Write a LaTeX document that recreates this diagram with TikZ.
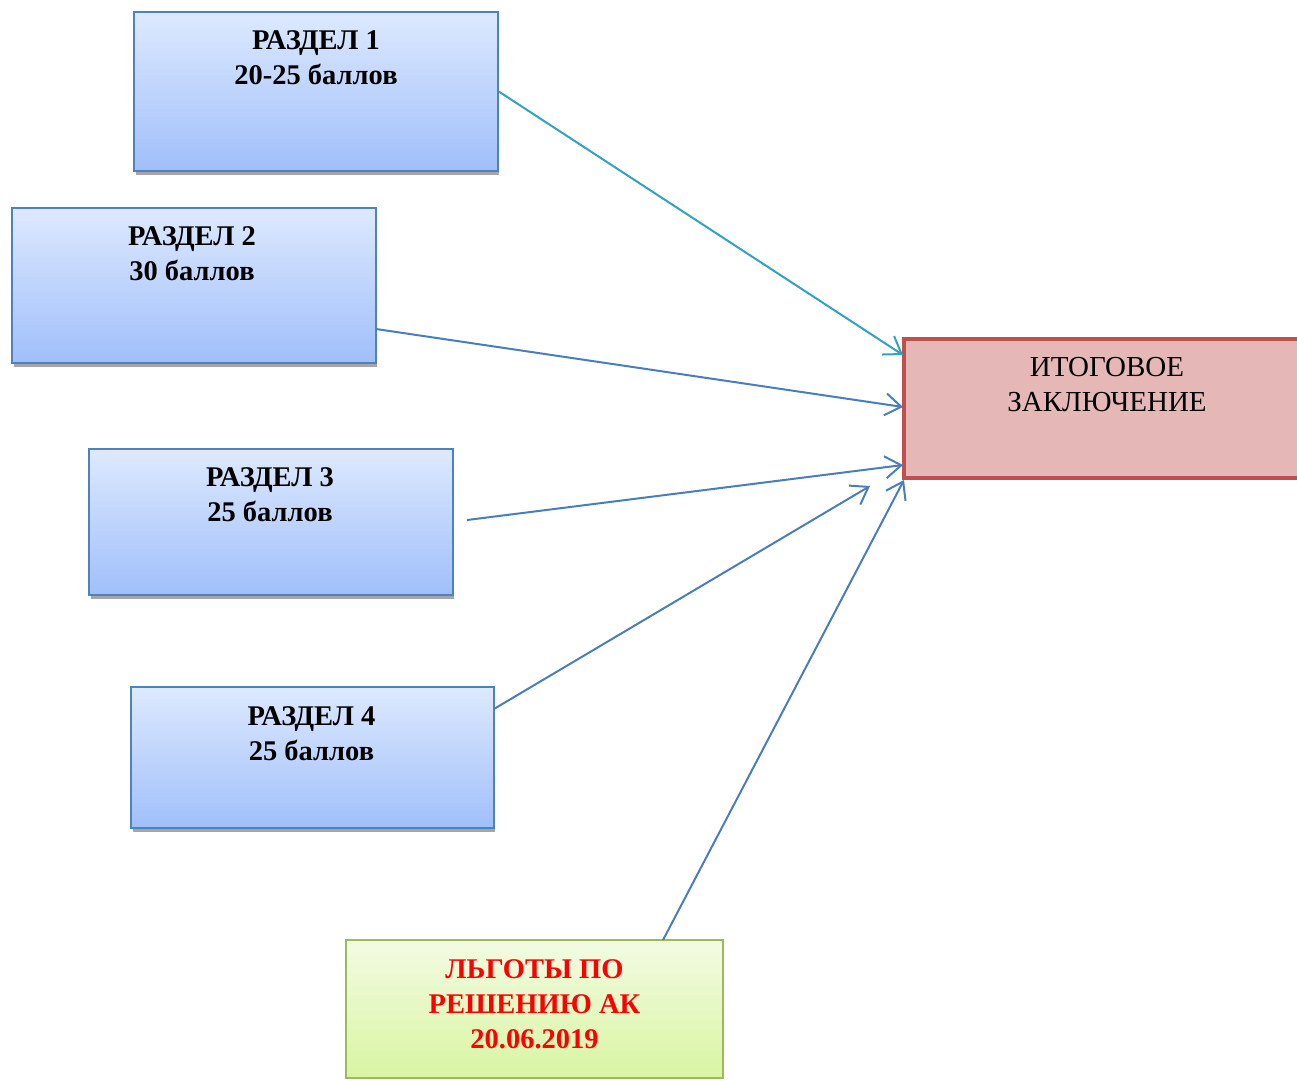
\documentclass[tikz,border=0pt]{standalone}
\usepackage{fontspec}
\setmainfont{Liberation Serif}
\usetikzlibrary{arrows.meta,calc}
\definecolor{bluebd}{HTML}{4F81BD}
\definecolor{bluetop}{HTML}{DDE9FE}
\definecolor{bluebot}{HTML}{A0BFFA}
\definecolor{redbd}{HTML}{C0504D}
\definecolor{redfill}{HTML}{E5B8B7}
\definecolor{greenbd}{HTML}{9BBB59}
\definecolor{greentop}{HTML}{F3FBE3}
\definecolor{greenbot}{HTML}{D8F5A2}
\definecolor{arrblue}{HTML}{4A7EBB}
\definecolor{arrteal}{HTML}{31A2C4}
\definecolor{txtred}{HTML}{FF0000}
\tikzset{
  secbox/.style={draw=bluebd, line width=1.5pt, top color=bluetop, bottom color=bluebot, inner sep=0pt},
  greenbox/.style={draw=greenbd, line width=1.5pt, top color=greentop, bottom color=greenbot, inner sep=0pt},
  finalbox/.style={draw=redbd, line width=4pt, fill=redfill, inner sep=0pt},
  shadowline/.style={draw=gray!70, line width=3pt},
  boxtext/.style={anchor=north, inner sep=0pt, align=center, font=\fontsize{28.5}{35}\selectfont\bfseries},
  plaintext/.style={anchor=north, inner sep=0pt, align=center, font=\fontsize{29}{35}\selectfont},
  link/.style={draw=arrblue, line width=2pt, -{Straight Barb[length=16pt,width=22pt,line width=2pt]}},
  tlink/.style={link, draw=arrteal}
}
\begin{document}
\begin{tikzpicture}[x=1pt,y=-1pt]
\useasboundingbox (0,0) rectangle (1297,1080);
% shadows
\draw[shadowline] (136,173) -- (499,173);
\draw[shadowline] (14,365) -- (377,365);
\draw[shadowline] (91,597) -- (454,597);
\draw[shadowline] (133,830) -- (495,830);
% boxes
\node[secbox, minimum width=364pt, minimum height=159pt] (r1) at (316,91.5) {};
\node[secbox, minimum width=364pt, minimum height=155pt] (r2) at (194,285.5) {};
\node[secbox, minimum width=364pt, minimum height=146pt] (r3) at (271,522) {};
\node[secbox, minimum width=363pt, minimum height=141pt] (r4) at (312.5,757.5) {};
\node[finalbox, minimum width=406pt, minimum height=139pt] (fin) at (1107,408.5) {};
\node[greenbox, minimum width=377pt, minimum height=138pt] (lg) at (534.5,1009) {};
% texts
\node[boxtext] (t1) at ($(r1.north)+(0,19)$) {РАЗДЕЛ 1\\20-25 баллов};
\node[boxtext] (t2) at ($(r2.north)+(-2,19)$) {РАЗДЕЛ 2\\30 баллов};
\node[boxtext] (t3) at ($(r3.north)+(-1,19)$) {РАЗДЕЛ 3\\25 баллов};
\node[boxtext] (t4) at ($(r4.north)+(-1,20)$) {РАЗДЕЛ 4\\25 баллов};
\node[plaintext] (tf) at ($(fin.north)+(0,20.5)$) {ИТОГОВОЕ\\ЗАКЛЮЧЕНИЕ};
\node[boxtext, text=txtred] (tl) at ($(lg.north)+(0,20)$) {ЛЬГОТЫ ПО\\РЕШЕНИЮ АК\\20.06.2019};
% connector points
\coordinate (s2) at (376,329);
\coordinate (s3) at (467,520);
\coordinate (e1) at (903,355);
\coordinate (e2) at (903,407);
\coordinate (e3) at (903,465);
\coordinate (e4) at (870,486);
\coordinate (e5) at (904,480);
\coordinate (s5) at (663,940);
\draw[tlink] (r1.east) -- (e1);
\draw[link] (s2) -- (e2);
\draw[link] (s3) -- (e3);
\draw[link] ($(r4.east)+(0,-49)$) -- (e4);
\draw[link] (s5) -- (e5);
\end{tikzpicture}
\end{document}
